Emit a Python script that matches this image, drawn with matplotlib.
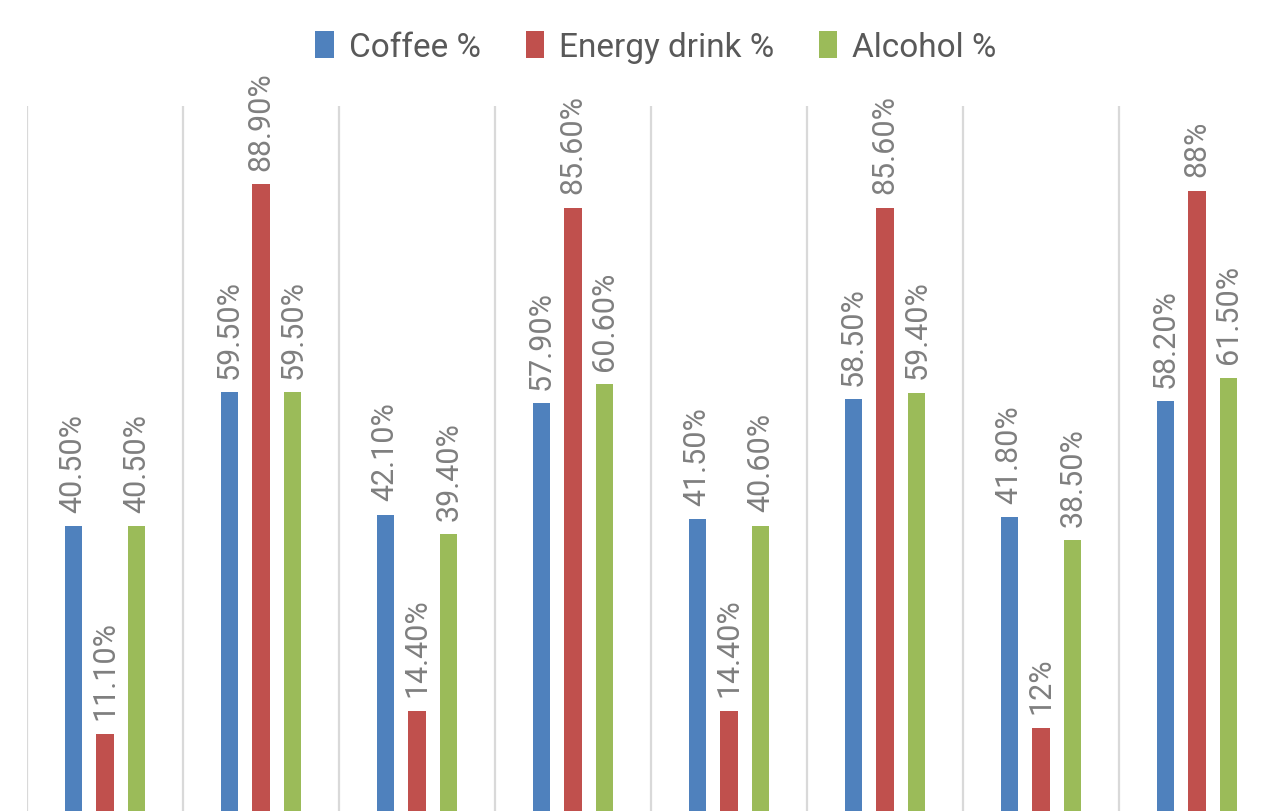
import numpy as np
import matplotlib
matplotlib.use("Agg")
import matplotlib.pyplot as plt

plt.rcParams['font.family'] = ['Roboto', 'DejaVu Sans']

# values (percent)
groups = ["1", "2", "3", "4", "5", "6", "7", "8"]
coffee = [40.5, 59.5, 42.1, 57.9, 41.5, 58.5, 41.8, 58.2]
energy = [11.1, 88.9, 14.4, 85.6, 14.4, 85.6, 12.0, 88.0]
alcohol = [40.5, 59.5, 39.4, 60.6, 40.6, 59.4, 38.5, 61.5]
series_names = ["Coffee %", "Energy drink %", "Alcohol %"]
colors = ["#4F81BD", "#C0504D", "#9BBB59"]


def fmt(v):
    # excel style: 12% but 40.50%
    if float(v).is_integer():
        return "%d%%" % v
    return "%.2f%%" % v


fig = plt.figure(figsize=(12.68, 8.12), dpi=100)
# plot area runs past the right edge of the picture (cropped chart)
ax = fig.add_axes([27 / 1268, -1.5 / 812, 1248 / 1268, 706.5 / 812])

x = np.arange(len(groups))
w = 0.109
step = 0.205
for k, (vals, name, c) in enumerate(zip([coffee, energy, alcohol], series_names, colors)):
    xs = x + (k - 1) * step
    ax.bar(xs, vals, width=w, color=c, label=name, zorder=3)
    for xi, v in zip(xs, vals):
        ax.annotate(fmt(v), (xi, v), xytext=(0, 10.5), textcoords="offset points",
                    rotation=90, ha="center", va="bottom", fontsize=22,
                    color="#7f7f7f")

# category separators
for b in np.arange(len(groups) + 1) - 0.5:
    ax.axvline(b, color="#d9d9d9", lw=1.6, zorder=1)

ax.set_xlim(-0.5, len(groups) - 0.5)
ax.set_ylim(0, 100)
ax.set_xticks([])
ax.set_yticks([])
for s in ax.spines.values():
    s.set_visible(False)

leg = ax.legend(loc="center", bbox_to_anchor=((656 - 27) / 1248, (812 - 48 + 1.5) / 706.5),
                ncol=3, frameon=False, fontsize=24, handlelength=0.55, handleheight=0.85,
                handletextpad=0.45, columnspacing=1.35)
for t in leg.get_texts():
    t.set_color("#595959")

fig.savefig("out.png", dpi=100)
